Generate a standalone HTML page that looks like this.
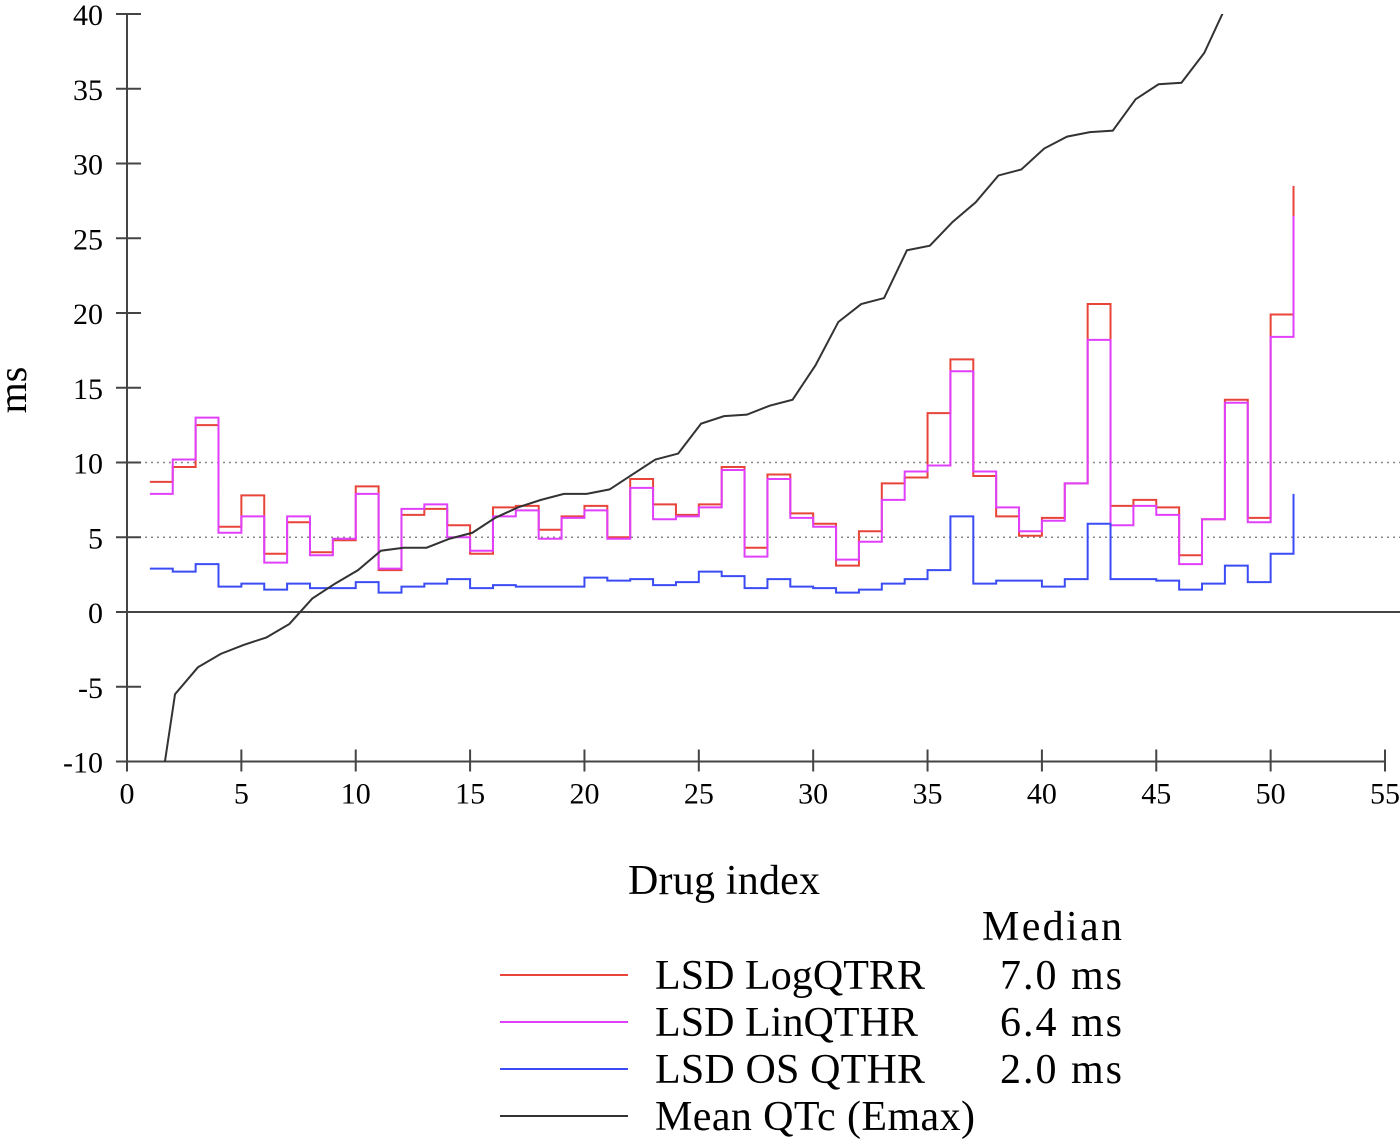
<!DOCTYPE html>
<html><head><meta charset="utf-8"><style>
html,body{margin:0;padding:0;background:#fff;}
svg{display:block;font-family:"Liberation Serif",serif;}
</style></head><body>
<svg id="chart" width="1400" height="1142" viewBox="0 0 1400 1142" xmlns="http://www.w3.org/2000/svg">
<defs><clipPath id="plotclip"><rect x="127" y="14" width="1258" height="748"/></clipPath></defs>
<g id="axes"></g>
<g id="series" clip-path="url(#plotclip)"></g>
<text x="724" y="894" font-size="42" text-anchor="middle" textLength="192">Drug index</text>
<text x="0" y="0" font-size="40" text-anchor="middle" transform="translate(26,390) rotate(-90)">ms</text>
<g id="legend"></g>
</svg>
<script>
const NS="http://www.w3.org/2000/svg";
const xTicks=[0,5,10,15,20,25,30,35,40,45,50,55];
const yTicks=[-10,-5,0,5,10,15,20,25,30,35,40];
const redVals=[8.7,9.7,12.5,5.7,7.8,3.9,6.0,4.0,4.8,8.4,2.8,6.5,6.9,5.8,3.9,7.0,7.1,5.5,6.4,7.1,5.0,8.9,7.2,6.5,7.2,9.7,4.3,9.2,6.6,5.9,3.1,5.4,8.6,9.0,13.3,16.9,9.1,6.4,5.1,6.3,8.6,20.6,7.1,7.5,7.0,3.8,6.2,14.2,6.3,19.9,28.5];
const magVals=[7.9,10.2,13.0,5.3,6.4,3.3,6.4,3.8,4.9,7.9,2.9,6.9,7.2,5.0,4.1,6.4,6.8,4.9,6.3,6.8,4.9,8.3,6.2,6.4,7.0,9.5,3.7,8.9,6.3,5.7,3.5,4.7,7.5,9.4,9.8,16.1,9.4,7.0,5.4,6.1,8.6,18.2,5.8,7.1,6.5,3.2,6.2,14.0,6.0,18.4,26.5];
const blueVals=[2.9,2.7,3.2,1.7,1.9,1.5,1.9,1.6,1.6,2.0,1.3,1.7,1.9,2.2,1.6,1.8,1.7,1.7,1.7,2.3,2.1,2.2,1.8,2.0,2.7,2.4,1.6,2.2,1.7,1.6,1.3,1.5,1.9,2.2,2.8,6.4,1.9,2.1,2.1,1.7,2.2,5.9,2.2,2.2,2.1,1.5,1.9,3.1,2.0,3.9,7.9];
const meanQTc=[-15.7,-5.5,-3.7,-2.8,-2.2,-1.7,-0.8,0.9,1.9,2.8,4.1,4.3,4.3,4.9,5.3,6.3,7.0,7.5,7.9,7.9,8.2,9.2,10.2,10.6,12.6,13.1,13.2,13.8,14.2,16.5,19.4,20.6,21.0,24.2,24.5,26.1,27.4,29.2,29.6,31.0,31.8,32.1,32.2,34.3,35.3,35.4,37.4,40.7];
const seriesNames=["LSD LogQTRR","LSD LinQTHR","LSD OS QTHR","Mean QTc (Emax)"];
const seriesColors=["#e8443a","#e040fb","#3b4cf5","#333333"];
const medians=["7.0 ms","6.4 ms","2.0 ms",""];
const nameWidths=[270,263,270,320];

const X=v=>127+v*(1385-127)/55;
const Y=v=>612-v*(612-14)/40;
function mk(tag,attrs,parent){const e=document.createElementNS(NS,tag);for(const k in attrs)e.setAttribute(k,attrs[k]);parent.appendChild(e);return e;}
const axes=document.getElementById('axes');
[5,10].forEach(v=>{
  const l=mk('line',{x1:127,x2:1400,y1:Y(v),y2:Y(v),stroke:'#888','stroke-width':1.5,'stroke-dasharray':'2,4'},axes);
  
  
});
const zl=mk('line',{x1:127,x2:1400,y1:Y(0),y2:Y(0),stroke:'#444','stroke-width':2},axes);


const ya=mk('line',{x1:127,x2:127,y1:Y(40),y2:Y(-10)+10,stroke:'#444','stroke-width':2},axes);


const xa=mk('line',{x1:116,x2:1385,y1:Y(-10),y2:Y(-10),stroke:'#444','stroke-width':2},axes);


yTicks.forEach(v=>{
  const t=mk('line',{x1:116,x2:141,y1:Y(v),y2:Y(v),stroke:'#444','stroke-width':2},axes);
  
  
  const tx=mk('text',{x:103,y:Y(v)+11,'font-size':30,'text-anchor':'end'},axes);
  tx.textContent=v;
  
  
});
xTicks.forEach(v=>{
  const t=mk('line',{x1:X(v),x2:X(v),y1:Y(-10)-12,y2:Y(-10)+10,stroke:'#444','stroke-width':2},axes);
  
  
  const tx=mk('text',{x:X(v),y:Y(-10)+42,'font-size':30,'text-anchor':'middle'},axes);
  tx.textContent=v;
  
  
});
const series=document.getElementById('series');
function stepPath(vals){
  let d='';
  vals.forEach((v,i)=>{
    const x0=i+1, x1=(i<vals.length-1)?i+2:i+1;
    d+=(i===0?'M':'L')+X(x0)+','+Y(v)+'L'+X(x1)+','+Y(v);
  });
  return d;
}
[[redVals,0,'series-lsd-logqtrr'],[magVals,1,'series-lsd-linqthr'],[blueVals,2,'series-lsd-os-qthr']].forEach(([vals,ci,name])=>{
  const p=mk('path',{d:stepPath(vals),fill:'none',stroke:seriesColors[ci],'stroke-width':2},series);
  
  
});
const mp=mk('path',{d:meanQTc.map((v,i)=>(i?'L':'M')+X(i+1.1)+','+Y(v)).join(''),fill:'none',stroke:seriesColors[3],'stroke-width':2},series);


const lg=document.getElementById('legend');
const mh=mk('text',{x:982,y:940,'font-size':42,textLength:140},lg);
mh.textContent='Median';


seriesNames.forEach((n,i)=>{
  const y=975+i*47;
  const l=mk('line',{x1:500,x2:628,y1:y,y2:y,stroke:seriesColors[i],'stroke-width':2},lg);
  
  
  const t=mk('text',{x:655,y:y+14,'font-size':42,textLength:nameWidths[i]},lg);
  t.textContent=n;
  
  
  if(medians[i]){
    const m=mk('text',{x:1000,y:y+14,'font-size':42,textLength:122},lg);
    m.textContent=medians[i];
    
    
  }
});
</script>
</body></html>
